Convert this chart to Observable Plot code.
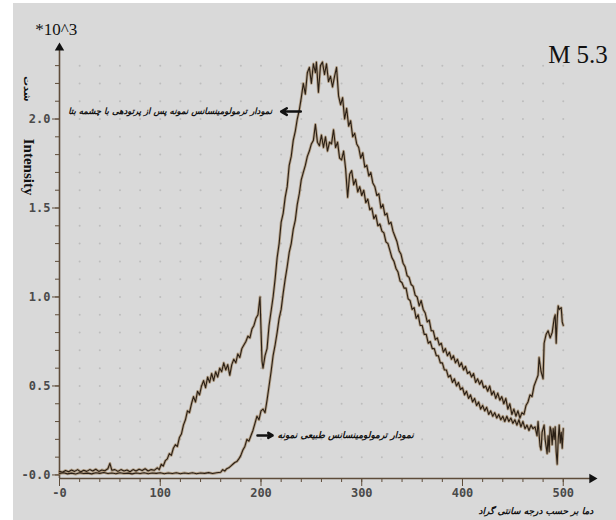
<!DOCTYPE html>
<html>
<head>
<meta charset="utf-8">
<script src="https://cdn.jsdelivr.net/npm/d3@7"></script>
<script src="https://cdn.jsdelivr.net/npm/@observablehq/plot@0.6"></script>
<style>
  html, body { margin: 0; padding: 0; background: #fff; }
</style>
</head>
<body>
<div id="chart"></div>
<script>
// ---- data (temperature °C, intensity ×10^3) ----
const irradiated = [
[0,.02],[3,.015],[6,.025],[9,.018],[12,.028],[15,.02],[18,.03],[21,.017],[24,.026],[27,.02],[30,.03],[33,.022],[36,.032],[39,.02],[42,.028],[45,.024],[48,.035],[50,.065],[52,.026],[55,.03],[58,.02],[61,.03],[64,.022],[67,.028],[70,.018],[73,.03],[76,.022],[79,.032],[82,.025],[85,.035],[88,.022],[91,.03],[94,.026],[97,.04],[99,.03],
[101,.06],[103,.05],[105,.08],[107,.09],[109,.12],[111,.11],[113,.15],[115,.17],[117,.16],[119,.21],[121,.23],[123,.28],[125,.31],[127,.36],[129,.35],[131,.4],[133,.44],[135,.41],[137,.47],[139,.45],[141,.5],[143,.53],[145,.49],[147,.55],[149,.52],[151,.57],[153,.53],[155,.58],[157,.55],[159,.6],[161,.58],[163,.63],[165,.59],[167,.62],[169,.56],[171,.62],[173,.65],[175,.63],[177,.68],[179,.66],[181,.71],[183,.73],[185,.75],[187,.78],[189,.77],[191,.82],[193,.84],[195,.88],[197,.9],[199,1.0],
[200,.82],[201,.64],[202,.6],[204,.67],[206,.71],[208,.84],[210,.92],[212,1.0],[214,1.1],[216,1.22],[218,1.3],[220,1.42],[222,1.47],[224,1.56],[226,1.62],[228,1.74],[230,1.79],[232,1.88],[234,1.93],[236,2.0],[238,2.05],[240,2.12],[242,2.2],[244,2.14],[246,2.26],[248,2.29],[250,2.2],[252,2.31],[254,2.26],[255,2.32],[257,2.15],[259,2.3],[261,2.32],[263,2.25],[265,2.31],[267,2.21],[269,2.24],[271,2.18],[273,2.24],[275,2.29],[277,2.13],[279,2.08],[281,2.12],[283,2.0],[285,2.06],[287,1.96],[289,1.99],[291,1.9],[293,1.92],[295,1.86],[297,1.84],[299,1.78],
[301,1.81],[303,1.73],[305,1.74],[307,1.68],[309,1.7],[311,1.64],[313,1.62],[315,1.57],[317,1.58],[319,1.5],[321,1.52],[323,1.46],[325,1.47],[327,1.41],[329,1.42],[331,1.37],[333,1.34],[335,1.31],[337,1.26],[339,1.24],[341,1.19],[343,1.17],[345,1.12],[347,1.11],[349,1.07],[351,1.06],[353,1.01],[355,1.0],[357,.95],[359,.98],[361,.93],[363,.91],[365,.86],[367,.87],[369,.81],[371,.81],[373,.76],[375,.77],[377,.73],[379,.74],[381,.69],[383,.71],[385,.67],[387,.69],[389,.65],[391,.67],[393,.63],[395,.65],[397,.61],[399,.63],
[401,.59],[403,.61],[405,.57],[407,.58],[409,.55],[411,.57],[413,.52],[415,.54],[417,.51],[419,.53],[421,.49],[423,.5],[425,.47],[427,.5],[429,.45],[431,.47],[433,.43],[435,.46],[437,.42],[439,.44],[441,.4],[443,.43],[445,.37],[447,.4],[449,.34],[451,.37],[453,.33],[455,.36],[457,.32],[459,.35],[461,.34],[463,.39],[465,.41],[467,.45],[469,.44],[471,.5],[473,.53],[475,.56],[476,.66],[478,.58],[480,.54],[481,.74],[483,.79],[485,.81],[487,.77],[489,.8],[491,.88],[492,.9],[493,.74],[494,.88],[495,.95],[496,.93],[498,.94],[499,.86],[500,.84]
];
const natural = [
[0,.008],[4,.012],[8,.006],[12,.01],[16,.005],[20,.012],[24,.008],[28,.01],[32,.006],[36,.012],[40,.009],[44,.014],[48,.008],[52,.011],[56,.007],[60,.012],[64,.008],[68,.01],[72,.006],[76,.011],[80,.008],[84,.012],[88,.007],[92,.011],[96,.009],[100,.012],[104,.007],[108,.011],[112,.008],[116,.012],[120,.007],[124,.011],[128,.008],[132,.012],[136,.007],[140,.011],[144,.009],[148,.013],[152,.008],[156,.012],[160,.015],
[162,.03],[164,.022],[166,.035],[168,.04],[170,.05],[172,.06],[174,.07],[176,.075],[178,.09],[180,.11],[182,.14],[184,.16],[186,.2],[188,.19],[190,.22],[192,.25],[194,.29],[196,.33],[198,.31],[200,.36],[202,.37],[204,.35],[206,.42],[208,.5],[210,.58],[212,.67],[214,.73],[216,.8],[218,.88],[220,.93],[222,1.02],[224,1.1],[226,1.17],[228,1.25],[230,1.3],[232,1.38],[234,1.43],[236,1.52],[238,1.58],[240,1.66],[242,1.7],[244,1.74],[246,1.79],[248,1.82],[250,1.86],[252,1.88],[254,1.97],[256,1.87],[258,1.85],[260,1.91],[262,1.84],[264,1.9],[266,1.82],[268,1.87],[270,1.86],[272,1.94],[274,1.84],[276,1.87],[278,1.78],[280,1.77],[282,1.82],[284,1.72],[286,1.56],[288,1.69],[290,1.71],[292,1.63],[294,1.66],[296,1.59],[298,1.62],
[300,1.57],[302,1.6],[304,1.53],[306,1.55],[308,1.49],[310,1.5],[312,1.44],[314,1.46],[316,1.4],[318,1.41],[320,1.37],[322,1.36],[324,1.31],[326,1.3],[328,1.26],[330,1.22],[332,1.2],[334,1.16],[336,1.14],[338,1.09],[340,1.08],[342,1.05],[344,1.05],[346,.99],[348,.98],[350,.93],[352,.94],[354,.88],[356,.9],[358,.84],[360,.84],[362,.79],[364,.79],[366,.74],[368,.75],[370,.71],[372,.71],[374,.67],[376,.67],[378,.63],[380,.63],[382,.59],[384,.59],[386,.55],[388,.56],[390,.52],[392,.54],[394,.5],[396,.52],[398,.48],
[400,.49],[402,.45],[404,.47],[406,.43],[408,.45],[410,.41],[412,.43],[414,.39],[416,.41],[418,.37],[420,.39],[422,.36],[424,.38],[426,.34],[428,.36],[430,.33],[432,.35],[434,.32],[436,.34],[438,.31],[440,.33],[442,.3],[444,.33],[446,.3],[448,.32],[450,.29],[452,.31],[454,.28],[456,.31],[458,.27],[460,.3],[462,.26],[464,.28],[466,.25],[468,.28],[470,.26],[472,.27],[474,.22],[475,.3],[477,.16],[478,.14],[479,.24],[481,.28],[482,.2],[484,.12],[485,.22],[486,.13],[487,.27],[488,.25],[489,.17],[490,.26],[491,.2],[492,.27],[493,.13],[494,.06],[495,.2],[496,.28],[497,.18],[498,.24],[499,.15],[500,.26]
];

// ---- ticks and labels ----
const xMajorTicks = [0, 100, 200, 300, 400, 500];
const xMajorLabels = ["-0", "100", "200", "300", "400", "500"];
const xMinorTicks = [0,20,40,60,80,100,120,140,160,180,200,220,240,260,280,300,320,340,360,380,400,420,440,460,480,500];
const yMajorTicks = [0, 0.5, 1.0, 1.5, 2.0];
const yMajorLabels = ["-0.0", "0.5", "1.0", "1.5", "2.0"];
const yMinorTicks = [0,0.1,0.2,0.3,0.4,0.5,0.6,0.7,0.8,0.9,1.0,1.1,1.2,1.3,1.4,1.5,1.6,1.7,1.8,1.9,2.0,2.1,2.2,2.3];
const gridX = [20,40,60,80,100,120,140,160,180,200,220,240,260,280,300,320,340,360,380,400,420,440,460,480,500];
const gridY = [0.1,0.2,0.3,0.4,0.5,0.6,0.7,0.8,0.9,1.0,1.1,1.2,1.3,1.4,1.5,1.6,1.7,1.8,1.9,2.0,2.1,2.2,2.3];

// ---- texts ----
const unitText = "*10^3";
const sampleText = "M 5.3";
const yTitle = "Intensity";
const yTitleFa = "شدت";
const label1 = "نمودار ترمولومینسانس نمونه پس از پرتودهی با چشمه بتا";
const label2 = "نمودار ترمولومینسانس طبیعی نمونه";
const xTitle = "دما بر حسب درجه سانتی گراد";

// ---- layout ----
const W = 616, H = 520, mL = 59, mR = 19, mT = 42, mB = 42;
const xDomain = [0, 534];
const yDomain = [-0.02, 2.43];
const axisColor = "#5e4c3a";
const tickText = "#4a4a4a";
const lineCore = "#2a1f15";
const lineHalo = "#9a7a52";
const persianFont = "DejaVu Sans";

const gridPts = gridX.flatMap(x => gridY.map(y => ({x, y})));

const ann = {
  unit: {x: -24, y: 2.50},
  sample: {x: 485, y: 2.36},
  yTitle: {x: -30.5, y: 1.73},
  yTitleFa: {x: -32.5, y: 2.17},
  l1: {x: 211, y: 2.042},
  a1: {x1: 239.5, x2: 220, y: 2.042},
  l2: {x: 216.5, y: 0.222},
  a2: {x1: 196.5, x2: 211.5, y: 0.222},
  xTitle: {x: 416, y: -0.205}
};
const persianStyle = (size) => ({fontFamily: persianFont, fontSize: size, fontWeight: "bold", fontStyle: "italic", fill: "#111"});

const chart = Plot.plot({
  width: W,
  height: H,
  marginLeft: mL,
  marginRight: mR,
  marginTop: mT,
  marginBottom: mB,
  x: {domain: xDomain},
  y: {domain: yDomain},
  style: {
    background: "linear-gradient(#fff 0 3px, transparent 3px), linear-gradient(to right, #fff 0 13px, #d9d9d9 13px)",
    fontFamily: "DejaVu Sans Mono",
    fontSize: "12px",
    fontWeight: "bold",
    overflow: "visible"
  },
  marks: [
    Plot.dot(gridPts, {x: "x", y: "y", r: 1, fill: "#bdbdbd", stroke: null}),
    Plot.axisX({ticks: xMinorTicks, tickSize: 4, text: null, stroke: axisColor, label: null}),
    Plot.axisX({ticks: xMajorTicks, tickSize: 8, tickPadding: 2, tickFormat: d => xMajorLabels[xMajorTicks.indexOf(d)], stroke: axisColor, fill: tickText, label: null}),
    Plot.axisY({ticks: yMinorTicks, tickSize: 4, text: null, stroke: axisColor, label: null}),
    Plot.axisY({ticks: yMajorTicks, tickSize: 7, tickPadding: 2, tickFormat: d => yMajorLabels[yMajorTicks.indexOf(d)], stroke: axisColor, fill: tickText, label: null}),
    Plot.ruleX([xDomain[0]], {y1: yDomain[0], y2: yDomain[1] - 0.03, stroke: axisColor, strokeWidth: 1.6}),
    Plot.ruleY([yDomain[0]], {x1: xDomain[0], x2: xDomain[1] - 6, stroke: axisColor, strokeWidth: 1.6}),
    Plot.dot([{x: xDomain[0], y: yDomain[1] - 0.03}], {x: "x", y: "y", symbol: "triangle", r: 3.5, fill: "#111", stroke: null}),
    Plot.dot([{x: xDomain[1] - 5.4, y: yDomain[0]}], {x: "x", y: "y", symbol: "triangle", r: 3.5, rotate: 90, fill: "#111", stroke: null}),
    Plot.line(irradiated, {x: d => d[0], y: d => d[1], stroke: lineHalo, strokeWidth: 2.8, strokeOpacity: 0.6}),
    Plot.line(natural, {x: d => d[0], y: d => d[1], stroke: lineHalo, strokeWidth: 2.8, strokeOpacity: 0.6}),
    Plot.line(irradiated, {x: d => d[0], y: d => d[1], stroke: lineCore, strokeWidth: 1.1}),
    Plot.line(natural, {x: d => d[0], y: d => d[1], stroke: lineCore, strokeWidth: 1.1}),
    Plot.text([unitText], {x: ann.unit.x, y: ann.unit.y, text: d => d, textAnchor: "start", fontFamily: "Liberation Serif", fontSize: 17, fontWeight: "normal", fill: "#111"}),
    Plot.text([sampleText], {x: ann.sample.x, y: ann.sample.y, text: d => d, textAnchor: "start", fontFamily: "Liberation Serif", fontSize: 25, fontWeight: "normal", fill: "#111"}),
    Plot.text([yTitle], {x: ann.yTitle.x, y: ann.yTitle.y, text: d => d, rotate: 90, fontFamily: "Liberation Serif", fontSize: 15, fontWeight: "bold", fill: "#111"}),
    Plot.text([yTitleFa], {x: ann.yTitleFa.x, y: ann.yTitleFa.y, text: d => d, rotate: 90, fontFamily: persianFont, fontSize: 10, fontWeight: "bold", fill: "#111"}),
    Plot.text([label1], {x: ann.l1.x, y: ann.l1.y, text: d => d, textAnchor: "end", ...persianStyle(8.5)}),
    Plot.arrow([ann.a1], {x1: "x1", x2: "x2", y1: "y", y2: "y", stroke: "#111", strokeWidth: 2.5, headLength: 7}),
    Plot.text([label2], {x: ann.l2.x, y: ann.l2.y, text: d => d, textAnchor: "start", ...persianStyle(9)}),
    Plot.arrow([ann.a2], {x1: "x1", x2: "x2", y1: "y", y2: "y", stroke: "#111", strokeWidth: 2.5, headLength: 7}),
    Plot.text([xTitle], {x: ann.xTitle.x, y: ann.xTitle.y, text: d => d, textAnchor: "start", ...persianStyle(9)})
  ]
});
document.getElementById("chart").appendChild(chart);
</script>
</body>
</html>
